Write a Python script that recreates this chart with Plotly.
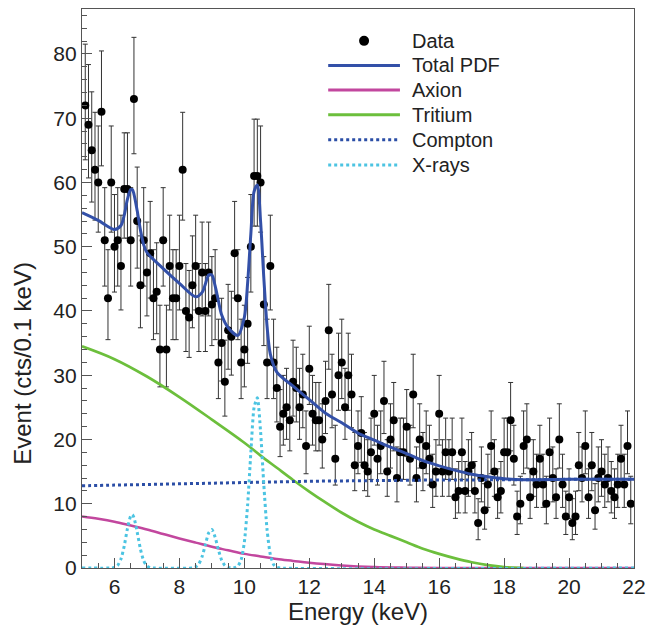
import numpy as np
import plotly.graph_objects as go

# ---- data: counts per 0.1 keV bin ----
counts = [72, 69, 65, 62, 60, 71, 51, 42, 60, 50,
          51, 47, 59, 59, 51, 73, 54, 44, 51, 46,
          49, 42, 43, 34, 51, 34, 47, 42, 42, 47,
          62, 40, 39, 44, 47, 40, 46, 40, 46, 41,
          42, 32, 35, 29, 37, 36, 49, 42, 32, 34,
          38, 50, 61, 61, 60, 41, 32, 47, 32, 28,
          22, 24, 25, 23, 29, 28, 25, 27, 19, 31,
          24, 23, 23, 20, 26, 37, 27, 17, 30, 32,
          25, 30, 27, 16, 19, 21, 16, 15, 18, 24,
          17, 19, 26, 15, 20, 23, 14, 18, 18, 22,
          17, 27, 14, 20, 16, 19, 17, 13, 15, 24,
          15, 18, 15, 18, 11, 12, 18, 12, 15, 16,
          12, 7, 14, 9, 13, 19, 15, 11, 12, 18,
          18, 23, 17, 8, 10, 19, 20, 11, 15, 13,
          17, 13, 10, 18, 14, 11, 20, 13, 8, 11,
          7, 8, 16, 14, 19, 11, 16, 9, 14, 15,
          13, 14, 12, 11, 13, 17, 13, 19, 10]
energy = np.round(5.1 + 0.1 * np.arange(len(counts)), 2)

# ---- model components ----
total_x = [5.0, 5.5, 6.0, 6.2, 6.3, 6.4, 6.5, 6.55, 6.6, 6.7, 6.8, 6.9, 7.0, 7.5,
           8.0, 8.5, 8.7, 8.8, 8.9, 9.0, 9.1, 9.2, 9.3, 9.5, 9.8, 10.0, 10.1, 10.2,
           10.3, 10.4, 10.5, 10.6, 10.7, 10.8, 11.0, 11.5, 12.0, 12.5, 13.0, 13.5,
           14.0, 14.5, 15.0, 15.5, 16.0, 16.5, 17.0, 17.5, 18.0, 18.6, 19.0, 20.0,
           21.0, 22.0]
total_y = [55.3, 54.1, 52.7, 53.3, 54.9, 57.4, 58.9, 58.9, 58.2, 55.6, 52.6, 50.3,
           49.1, 46.6, 44.3, 42.2, 42.9, 44.2, 45.6, 45.6, 43.9, 41.6, 39.4, 37.4,
           36.2, 39.0, 44.3, 52.0, 58.6, 59.6, 53.9, 45.1, 37.6, 33.3, 30.5, 28.3,
           26.2, 24.1, 22.6, 21.0, 19.9, 18.8, 17.8, 16.7, 15.9, 15.2, 14.6, 14.2,
           13.9, 13.75, 13.75, 13.8, 13.8, 13.8]

axion_x = [5.0, 5.5, 6.0, 6.5, 7.0, 7.5, 8.0, 8.5, 9.0, 9.5, 10.0, 10.5, 11.0,
           11.5, 12.0, 13.0, 14.0, 15.0, 16.0, 22.0]
axion_y = [8.0, 7.65, 7.2, 6.6, 6.0, 5.3, 4.6, 3.95, 3.3, 2.75, 2.2, 1.8, 1.4,
           1.1, 0.8, 0.4, 0.15, 0.05, 0.0, 0.0]

tritium_x = [5.0, 6.0, 7.0, 8.0, 9.0, 10.0, 10.5, 11.0, 11.5, 12.0, 12.5, 13.0,
             13.5, 14.0, 14.5, 15.0, 15.5, 16.0, 16.5, 17.0, 17.5, 18.0, 18.6]
tritium_y = [34.5, 32.5, 29.8, 26.6, 23.1, 19.5, 17.5, 15.6, 13.7, 11.9, 10.2, 8.6,
             7.2, 6.0, 5.0, 4.0, 3.0, 2.2, 1.5, 0.9, 0.45, 0.15, 0.0]

compton_x = [5.0, 6.0, 7.0, 8.0, 9.0, 10.0, 11.0, 12.0, 13.0, 14.0, 15.0, 16.0,
             17.0, 18.0, 19.0, 20.0, 21.0, 22.0]
compton_y = [12.8, 12.9, 13.0, 13.1, 13.2, 13.3, 13.4, 13.5, 13.55, 13.6, 13.65,
             13.7, 13.7, 13.75, 13.75, 13.8, 13.8, 13.8]

xray_x = [5.0, 5.9, 6.0, 6.1, 6.2, 6.3, 6.4, 6.5, 6.55, 6.6, 6.7, 6.8, 6.9, 7.0,
          7.1, 8.4, 8.5, 8.6, 8.7, 8.8, 8.9, 9.0, 9.1, 9.2, 9.3, 9.4, 9.5, 9.6,
          9.7, 9.8, 9.9, 10.0, 10.1, 10.2, 10.3, 10.4, 10.5, 10.6, 10.7, 10.8,
          10.9, 11.0, 11.1, 22.0]
xray_y = [0.0, 0.0, 0.09, 0.42, 1.39, 3.41, 6.14, 8.1, 8.3, 7.85, 5.59, 2.92, 1.12,
          0.31, 0.06, 0.0, 0.17, 0.65, 1.79, 3.64, 5.44, 5.98, 4.8, 2.84, 1.24, 0.39,
          0.09, 0.02, 0.05, 0.3, 1.26, 4.02, 9.76, 17.96, 25.0, 26.5, 21.2, 12.9,
          5.93, 2.07, 0.55, 0.11, 0.0, 0.0]

x_ticks = [6, 8, 10, 12, 14, 16, 18, 20, 22]
y_ticks = [0, 10, 20, 30, 40, 50, 60, 70, 80]

legend_labels = ["Data", "Total PDF", "Axion", "Tritium", "Compton", "X-rays"]

# Poisson-style asymmetric error bars from the counts
c = np.array(counts, dtype=float)
err_up = np.sqrt(c + 0.75) + 1.0
err_dn = np.sqrt(np.maximum(c - 0.25, 0))

FONT = "Liberation Sans, Arial, sans-serif"
TXT = "#222222"
COL = {"Total PDF": "#3350a8", "Axion": "#c2479e", "Tritium": "#6cbf3c",
       "Compton": "#2b4ea6", "X-rays": "#4cc4e2"}

fig = go.Figure()
fig.add_trace(go.Scatter(
    x=energy, y=counts, mode="markers", name="Data", showlegend=False,
    marker=dict(color="black", size=8),
    error_y=dict(type="data", symmetric=False, array=err_up, arrayminus=err_dn,
                 color="#333333", thickness=1, width=2.5),
))
fig.add_trace(go.Scatter(x=total_x, y=total_y, mode="lines", name="Total PDF", showlegend=False,
                         line=dict(color=COL["Total PDF"], width=3, shape="spline", smoothing=0.8)))
fig.add_trace(go.Scatter(x=axion_x, y=axion_y, mode="lines", name="Axion", showlegend=False,
                         line=dict(color=COL["Axion"], width=2.5, shape="spline")))
fig.add_trace(go.Scatter(x=tritium_x, y=tritium_y, mode="lines", name="Tritium", showlegend=False,
                         line=dict(color=COL["Tritium"], width=2.7, shape="spline")))
fig.add_trace(go.Scatter(x=compton_x, y=compton_y, mode="lines", name="Compton", showlegend=False,
                         line=dict(color=COL["Compton"], width=3, dash="dot", shape="spline")))
fig.add_trace(go.Scatter(x=xray_x, y=xray_y, mode="lines", name="X-rays", showlegend=False,
                         line=dict(color=COL["X-rays"], width=3, dash="dot", shape="spline",
                                   smoothing=0.6)))

# ---- legend drawn as a key box (paper coordinates) ----
leg_x0, leg_x1, leg_txt = 0.446, 0.576, 0.594
leg_rows = [0.943, 0.899, 0.855, 0.811, 0.766, 0.721]
shapes = []
annotations = []
for lab, yy in zip(legend_labels, leg_rows):
    if lab == "Data":
        shapes.append(dict(type="circle", xref="paper", yref="paper",
                           xsizemode="pixel", ysizemode="pixel",
                           xanchor=(leg_x0 + leg_x1) / 2, yanchor=yy,
                           x0=-5, x1=5, y0=-5, y1=5,
                           fillcolor="black", line=dict(color="black", width=0)))
    else:
        dash = "dot" if lab in ("Compton", "X-rays") else "solid"
        shapes.append(dict(type="line", xref="paper", yref="paper",
                           x0=leg_x0, x1=leg_x1, y0=yy, y1=yy,
                           line=dict(color=COL[lab], width=3, dash=dash)))
    annotations.append(dict(text=lab, xref="paper", yref="paper", x=leg_txt, y=yy,
                            xanchor="left", yanchor="middle", showarrow=False,
                            font=dict(family=FONT, size=20, color=TXT)))

annotations.append(dict(text="Event (cts/0.1 keV)", xref="paper", yref="paper",
                        x=-0.108, y=0.366, textangle=-90, showarrow=False,
                        xanchor="center", yanchor="middle",
                        font=dict(family=FONT, size=24, color=TXT)))

axis_common = dict(showline=True, linecolor="#555555", linewidth=1.2, mirror=True,
                   ticks="inside", tickcolor="#555555", showgrid=False, zeroline=False,
                   tickfont=dict(family=FONT, size=21, color=TXT))

fig.update_layout(
    width=649, height=619,
    margin=dict(l=74, r=23, t=1, b=59, autoexpand=False),
    paper_bgcolor="white", plot_bgcolor="white",
    showlegend=False,
    xaxis=dict(range=[5, 22], tickvals=x_ticks, ticklen=10, tickwidth=1,
               minor=dict(dtick=0.5, ticks="inside", ticklen=5, tickcolor="#555555"),
               title=dict(text="Energy (keV)", font=dict(family=FONT, size=24, color=TXT),
                          standoff=2),
               **axis_common),
    yaxis=dict(range=[0, 87], tickvals=y_ticks, ticklen=10, tickwidth=1,
               minor=dict(dtick=2, ticks="inside", ticklen=5, tickcolor="#555555"),
               **axis_common),
    shapes=shapes,
    annotations=annotations,
)

fig.write_html("out.html")
